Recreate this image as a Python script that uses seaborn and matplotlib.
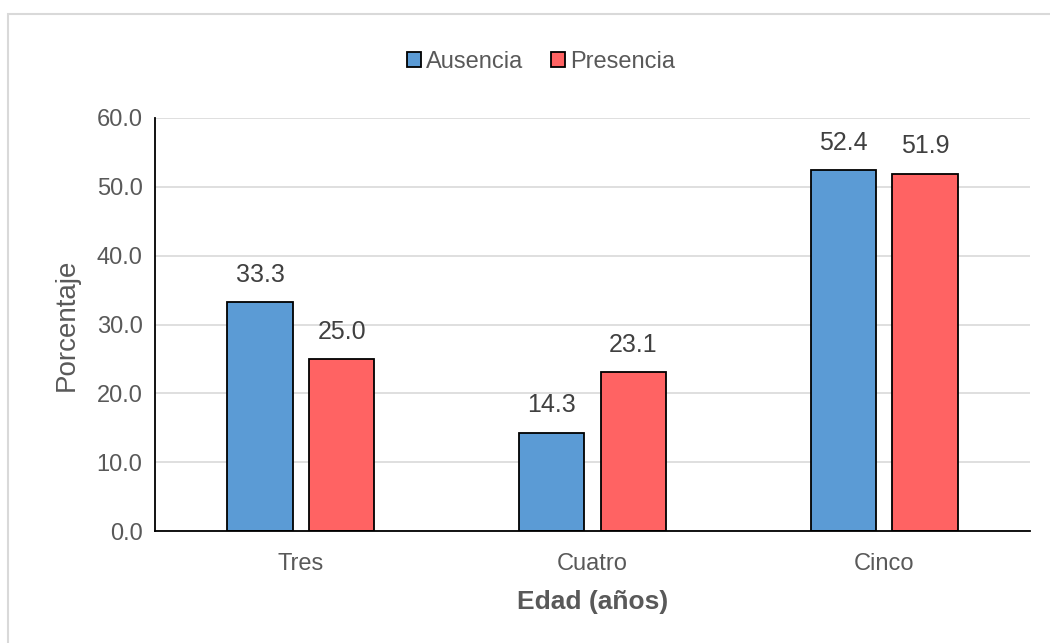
import matplotlib
matplotlib.use("Agg")
import matplotlib.pyplot as plt
from matplotlib.patches import Patch, Rectangle
import seaborn as sns
import pandas as pd

# Data
edades = ["Tres", "Cuatro", "Cinco"]
ausencia = [33.3, 14.3, 52.4]
presencia = [25.0, 23.1, 51.9]
grupos = ["Ausencia", "Presencia"]
colores = ["#5B9BD5", "#FF6363"]
yticks = [0, 10, 20, 30, 40, 50, 60]

df = pd.DataFrame({
    "Edad": edades * 2,
    "Grupo": [grupos[0]] * 3 + [grupos[1]] * 3,
    "Porcentaje": ausencia + presencia,
})

sns.set_theme(style="white")
plt.rcParams["font.family"] = ["Liberation Sans", "DejaVu Sans"]
gris = "#595959"

fig = plt.figure(figsize=(10.5, 6.43), dpi=100)
ax = fig.add_axes([155 / 1050, 1 - 531 / 643, 875 / 1050, 413 / 643])

sns.barplot(data=df, x="Edad", y="Porcentaje", hue="Grupo", order=edades,
            hue_order=grupos, palette=colores, width=0.56, gap=0.2,
            edgecolor="black", linewidth=1.3, saturation=1, ax=ax,
            legend=False, errorbar=None)

for cont in ax.containers:
    ax.bar_label(cont, fmt="%.1f", padding=11, fontsize=18, color="#404040")

ax.set_xlim(-0.5, 2.5)
ax.set_ylim(0, 60)
ax.set_yticks(yticks)
ax.set_yticklabels([f"{v:.1f}" for v in yticks])
ax.yaxis.grid(True, color="#D9D9D9", linewidth=1.2)
ax.set_axisbelow(True)
ax.tick_params(axis="both", length=0, labelsize=17, labelcolor=gris)
ax.tick_params(axis="x", pad=16)
ax.tick_params(axis="y", pad=9)
for s in ["top", "right"]:
    ax.spines[s].set_visible(False)
for s in ["left", "bottom"]:
    ax.spines[s].set_color("black")
    ax.spines[s].set_linewidth(1.3)

ax.set_xlabel("Edad (años)", fontsize=19, fontweight="bold", color=gris, labelpad=11)
ax.set_ylabel("Porcentaje", fontsize=20, color=gris, labelpad=12)

handles = [Patch(facecolor=c, edgecolor="black", linewidth=1.3, label=g)
           for c, g in zip(colores, grupos)]
fig.legend(handles=handles, loc="center", bbox_to_anchor=(541 / 1050, 1 - 62 / 643),
           ncol=2, frameon=False, fontsize=17, handlelength=0.6, handleheight=0.6,
           handletextpad=0.2, columnspacing=1.2, labelcolor=gris)

# Chart area border
fig.patches.append(Rectangle((8 / 1050, -0.1), 1.2, 1 - 14 / 643 + 0.1,
                             transform=fig.transFigure, fill=False,
                             edgecolor="#D9D9D9", linewidth=1.5))

fig.savefig("out.png", dpi=100)
